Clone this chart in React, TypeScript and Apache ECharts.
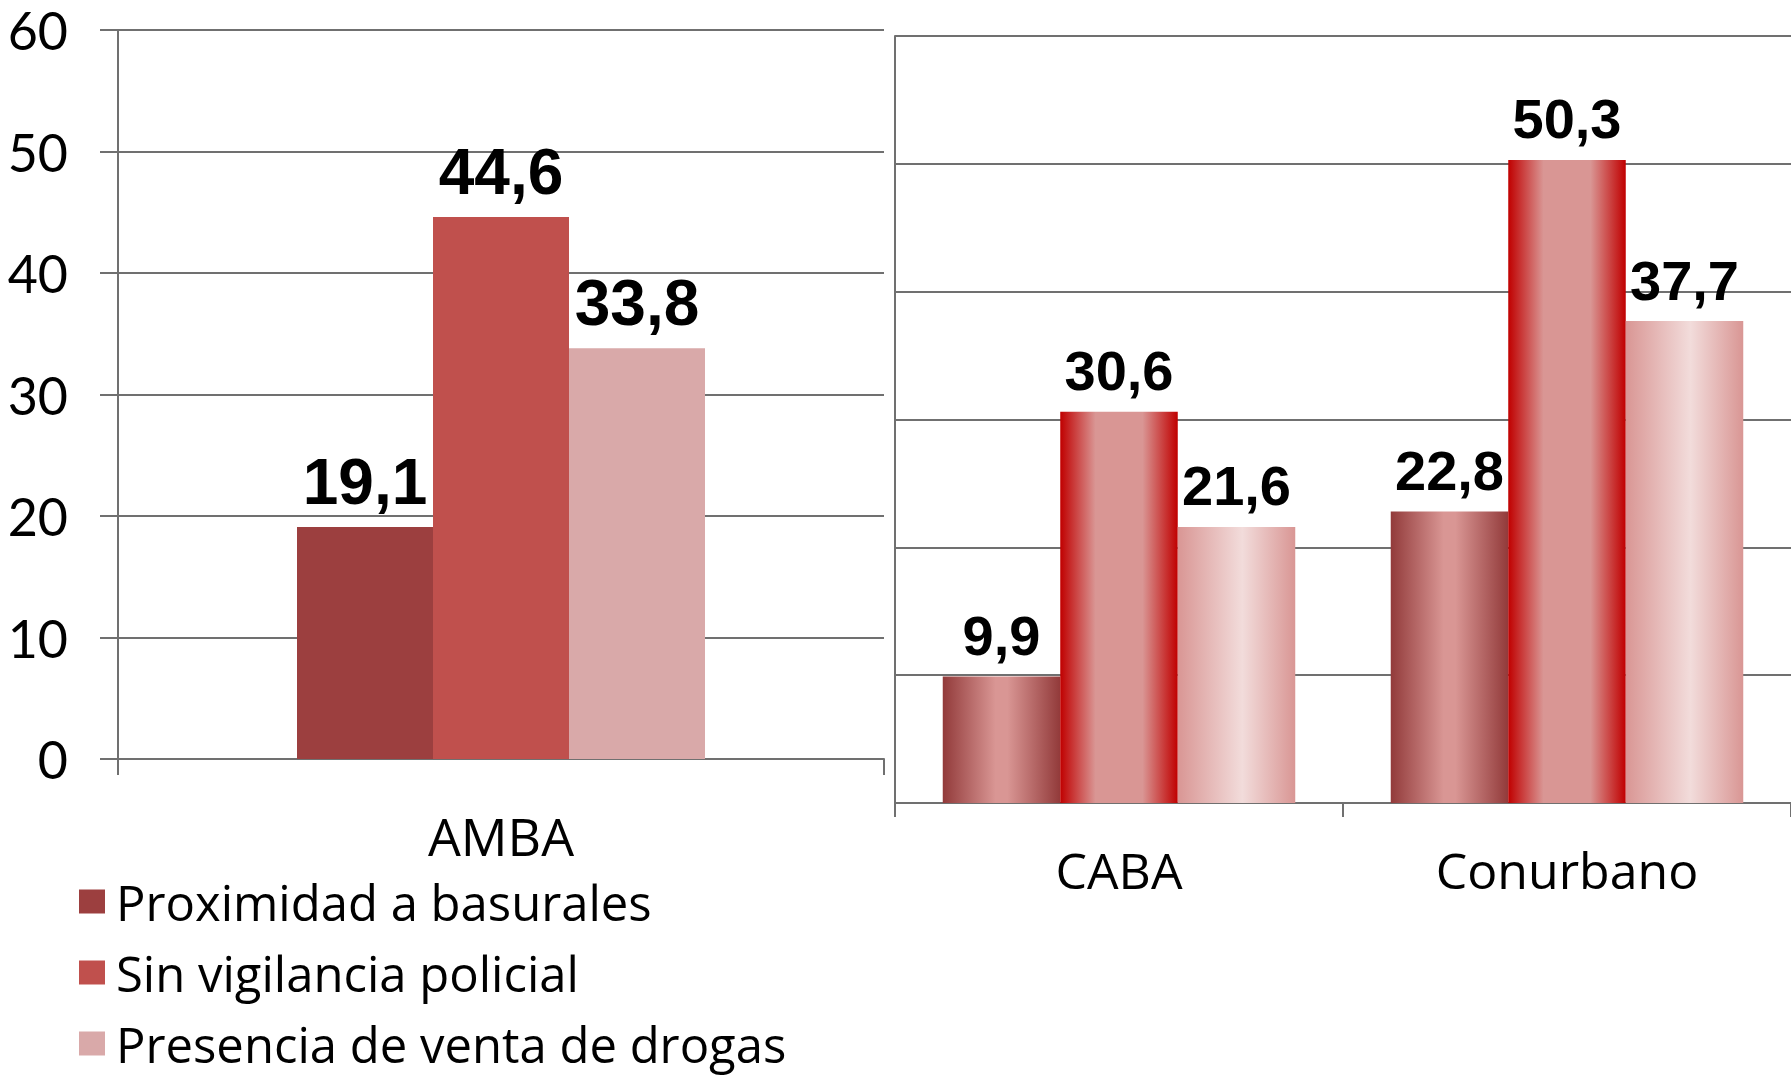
import React, { useEffect, useRef } from "react";
import * as echarts from "echarts";

const seriesNames = [
  "Proximidad a basurales",
  "Sin vigilancia policial",
  "Presencia de venta de drogas",
];
const leftCategories = ["AMBA"];
const rightCategories = ["CABA", "Conurbano"];
// AMBA value for each series (same order as seriesNames)
const ambaValues = [19.1, 44.6, 33.8];
// CABA / Conurbano values for each series
const proximidadRight = [9.9, 22.8];
const vigilanciaRight = [30.6, 50.3];
const drogasRight = [21.6, 37.7];
const rightValues = [proximidadRight, vigilanciaRight, drogasRight];

const yMin = 0;
const yMax = 60;
const yInterval = 10;

const flatColors = ["#9C3F3F", "#C0504D", "#D9A9A9"];
const gradientStops: [number, string][][] = [
  [
    [0, "#923A3A"],
    [0.45, "#D99694"],
    [0.55, "#D99694"],
    [1, "#923A3A"],
  ],
  [
    [0, "#C00000"],
    [0.3, "#D99694"],
    [0.7, "#D99694"],
    [1, "#C00000"],
  ],
  [
    [0, "#D99694"],
    [0.55, "#F2DCDB"],
    [1, "#D99694"],
  ],
];

const GRID = "#707070";
const LIGHT_FONT = "'Open Sans', Lato, sans-serif";
const TICK_FONT = "Lato, 'Open Sans', sans-serif";
const BOLD_FONT = "'Liberation Sans', Arial, sans-serif";

const fmt = (v: number) => v.toFixed(1).replace(".", ",");

export default function App() {
  const ref = useRef<HTMLDivElement>(null);

  useEffect(() => {
    document.body.style.margin = "0";
    if (!ref.current) return;
    const chart = echarts.init(ref.current, undefined, { renderer: "svg" });

    const leftSeries = seriesNames.map((name, i) => ({
      name,
      type: "bar",
      xAxisIndex: 0,
      yAxisIndex: 0,
      barWidth: 136,
      barGap: "0%",
      data: [ambaValues[i]],
      itemStyle: { color: flatColors[i] },
      label: {
        show: true,
        position: "top",
        distance: 13,
        formatter: (p: any) => fmt(p.value),
        fontFamily: BOLD_FONT,
        fontWeight: "bold",
        fontSize: 64,
        color: "#000",
      },
    }));

    const rightSeries = seriesNames.map((name, i) => ({
      name,
      type: "bar",
      xAxisIndex: 1,
      yAxisIndex: 1,
      barWidth: 117.5,
      barGap: "0%",
      data: rightValues[i],
      itemStyle: {
        color: new echarts.graphic.LinearGradient(
          0,
          0,
          1,
          0,
          gradientStops[i].map(([offset, color]) => ({ offset, color }))
        ),
      },
      label: {
        show: true,
        position: "top",
        distance: 13,
        formatter: (p: any) => fmt(p.value),
        fontFamily: BOLD_FONT,
        fontWeight: "bold",
        fontSize: 56,
        color: "#000",
      },
    }));

    chart.setOption({
      animation: false,
      backgroundColor: "#fff",
      legend: {
        orient: "vertical",
        left: 79,
        top: 877,
        padding: 0,
        itemWidth: 26,
        itemHeight: 24,
        itemGap: 22,
        icon: "rect",
        selectedMode: false,
        data: seriesNames.map((name, i) => ({
          name,
          itemStyle: { color: flatColors[i] },
        })),
        textStyle: {
          fontFamily: LIGHT_FONT,
          fontSize: 49,
          color: "#000",
          padding: [0, 0, 0, 6],
        },
      },
      grid: [
        { left: 118, top: 30, width: 766, height: 729, containLabel: false },
        { left: 895, top: 36, width: 902, height: 767, containLabel: false },
      ],
      xAxis: [
        {
          type: "category",
          gridIndex: 0,
          data: leftCategories,
          axisLine: { show: true, lineStyle: { color: GRID, width: 2 } },
          axisTick: { show: true, length: 16, lineStyle: { color: GRID, width: 2 } },
          axisLabel: {
            margin: 50,
            fontFamily: LIGHT_FONT,
            fontSize: 52,
            color: "#000",
          },
        },
        {
          type: "category",
          gridIndex: 1,
          data: rightCategories,
          axisLine: { show: true, lineStyle: { color: GRID, width: 2 } },
          axisTick: { show: true, length: 14, lineStyle: { color: GRID, width: 2 } },
          axisLabel: {
            margin: 42,
            fontFamily: LIGHT_FONT,
            fontSize: 50,
            color: "#000",
          },
        },
      ],
      yAxis: [
        {
          type: "value",
          gridIndex: 0,
          min: yMin,
          max: yMax,
          interval: yInterval,
          axisLine: { show: true, lineStyle: { color: GRID, width: 2 } },
          axisTick: { show: true, length: 18, lineStyle: { color: GRID, width: 2 } },
          splitLine: { show: true, lineStyle: { color: GRID, width: 2 } },
          axisLabel: {
            margin: 50,
            fontFamily: TICK_FONT,
            fontSize: 52,
            color: "#000",
          },
        },
        {
          type: "value",
          gridIndex: 1,
          min: yMin,
          max: yMax,
          interval: yInterval,
          axisLine: { show: true, lineStyle: { color: GRID, width: 2 } },
          axisTick: { show: false },
          splitLine: { show: true, lineStyle: { color: GRID, width: 2 } },
          axisLabel: { show: false },
        },
      ],
      series: [...leftSeries, ...rightSeries],
    });

    return () => chart.dispose();
  }, []);

  return (
    <div
      ref={ref}
      style={{ position: "absolute", left: 0, top: 0, width: 1791, height: 1075 }}
    />
  );
}
